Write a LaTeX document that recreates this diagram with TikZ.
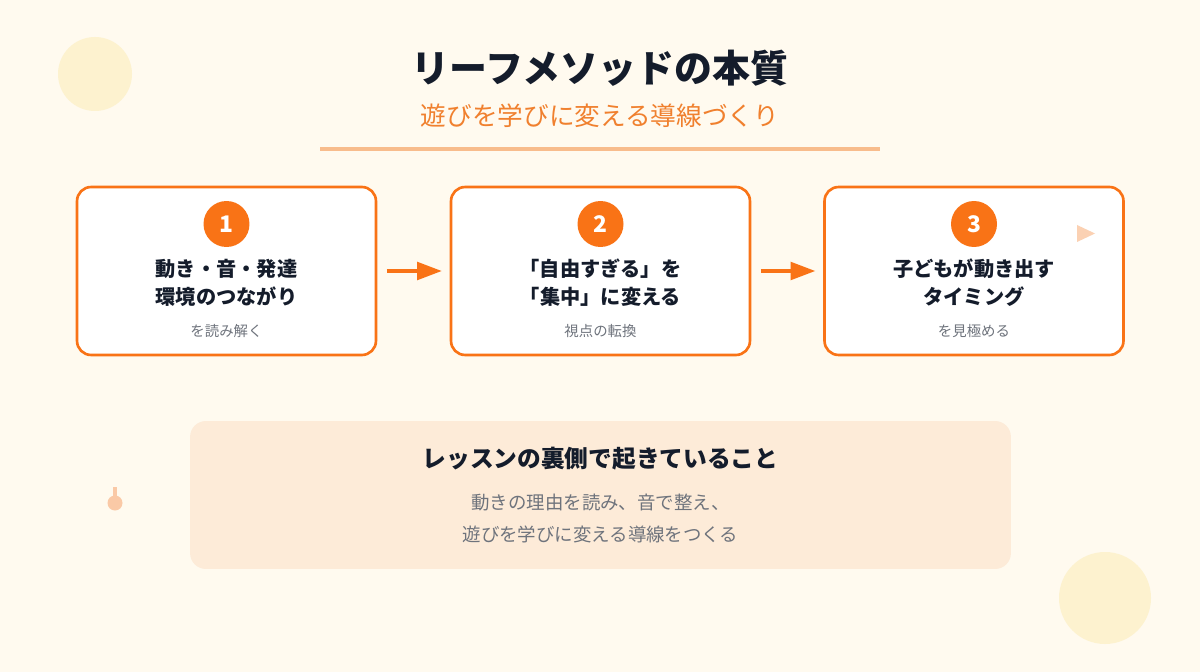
\documentclass[tikz,border=0pt]{standalone}
\usepackage{fontspec}
\setmainfont{Noto Sans CJK JP}
\usetikzlibrary{arrows.meta}
\definecolor{bgcream}{HTML}{FFFAEF}
\definecolor{leaforange}{HTML}{F97316}
\definecolor{suborange}{HTML}{F0802E}
\definecolor{ruleorange}{HTML}{F8BC8C}
\definecolor{inkdark}{HTML}{141C2B}
\definecolor{inkgray}{HTML}{6E737C}
\definecolor{boxpeach}{HTML}{FDEBD8}
\definecolor{dotyellow}{HTML}{FDF2CF}
\definecolor{palepeach}{HTML}{FAC9A6}
\begin{document}
\begin{tikzpicture}[x=0.02cm,y=-0.02cm]
\tikzstyle{every node}+=[inner sep=0pt]
\tikzstyle{stepcard}=[draw=leaforange,line width=1.5pt,fill=white,rounded corners=8pt,minimum width=5.98cm,minimum height=3.36cm]
\tikzstyle{stepnum}=[circle,fill=leaforange,minimum size=0.92cm,text=white,font=\fontsize{13}{15}\selectfont\bfseries]
\tikzstyle{steptitle}=[align=center,text=inkdark,font=\fontsize{11.5}{15.9}\selectfont\bfseries]
\tikzstyle{stepnote}=[text=inkgray,font=\fontsize{8.2}{10}\selectfont]
\tikzstyle{flow}=[draw=leaforange,line width=1.9pt,-{Triangle[length=14pt,width=10pt]},shorten <=5.4pt,shorten >=4.5pt]
\fill [bgcream] (0,0) rectangle (1200,672);
\useasboundingbox (0,0) rectangle (1200,672);
\fill [dotyellow] (95,74) circle (37);
\fill [dotyellow] (1105,598) circle (46);
\draw [palepeach,line width=1.8pt] (115,487) -- (115,502);
\fill [palepeach] (115,503) circle (7.5);
\node (title) at (600,68) [text=inkdark,font=\fontsize{21.6}{26}\selectfont\bfseries] {リーフメソッドの本質};
\node (subtitle) at (600,116) [text=suborange,font=\fontsize{14.6}{18}\selectfont] {遊びを学びに変える導線づくり};
\draw [ruleorange,line width=1.9pt] (320,149) -- (880,149);
\node (card1) at (226.5,271) [stepcard] {};
\node (card2) at (600.5,271) [stepcard] {};
\node (card3) at (974,271) [stepcard] {};
\fill [palepeach!85] (1077,225) -- (1095,233.5) -- (1077,242) -- cycle;
\node (num1) at (226.5,224) [stepnum] {1};
\node (num2) at (600.5,224) [stepnum] {2};
\node (num3) at (974,224) [stepnum] {3};
\node (text1) at (226.5,283) [steptitle] {動き・音・発達\\環境のつながり};
\node (text2) at (600.5,283) [steptitle] {「自由すぎる」を\\「集中」に変える};
\node (text3) at (974,283) [steptitle] {子どもが動き出す\\タイミング};
\node (note1) at (226.5,331) [stepnote] {を読み解く};
\node (note2) at (600.5,331) [stepnote] {視点の転換};
\node (note3) at (974,331) [stepnote] {を見極める};
\draw [flow] (card1) -- (card2);
\draw [flow] (card2) -- (card3);
\node (lesson) at (600.5,495) [fill=boxpeach,rounded corners=9pt,minimum width=16.42cm,minimum height=2.96cm] {};
\node (lessonhead) at (600.5,459) [text=inkdark,font=\fontsize{13.5}{16}\selectfont\bfseries] {レッスンの裏側で起きていること};
\node (lessonbody) at (600.5,518.5) [align=center,text=inkgray,font=\fontsize{10.5}{18.7}\selectfont] {動きの理由を読み、音で整え、\\遊びを学びに変える導線をつくる};
\end{tikzpicture}
\end{document}
